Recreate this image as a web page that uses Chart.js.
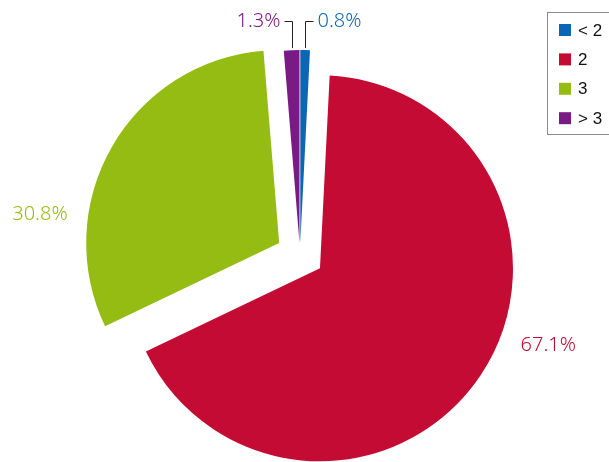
<!DOCTYPE html>
<html>
<head>
<meta charset="utf-8">
<script src="https://cdn.jsdelivr.net/npm/chart.js@4.4.1/dist/chart.umd.min.js"></script>
<style>
  html, body { margin: 0; padding: 0; background: #fff; }
  #wrap { width: 609px; height: 462px; position: relative; }
</style>
</head>
<body>
<div id="wrap"><canvas id="pieChart"></canvas></div>
<script>
// data
const categories = ["< 2", "2", "3", "> 3"];
const shares = [0.8, 67.1, 30.8, 1.3];

// styles
const sliceColors = ["#0b66b4", "#c30b33", "#94bc12", "#7a1a84"];
const explode = [12, 24, 24, 12];
const labelTurn = [0, -15, -23, 0]; // degrees, big outside labels only

// Pull slices out from the centre along their bisector
const explodePlugin = {
  id: "explode",
  afterDatasetUpdate(chart, args) {
    const meta = chart.getDatasetMeta(args.index);
    meta.data.forEach((arc, i) => {
      const mid = (arc.startAngle + arc.endAngle) / 2;
      arc.x += Math.cos(mid) * explode[i];
      arc.y += Math.sin(mid) * explode[i];
    });
  },
};

// Percent labels, with leader lines for the thin slices
const labelPlugin = {
  id: "pctLabels",
  afterDatasetsDraw(chart) {
    const ctx = chart.ctx;
    const meta = chart.getDatasetMeta(0);
    ctx.save();
    ctx.font = "300 20px 'Noto Sans'";
    ctx.textBaseline = "middle";
    meta.data.forEach((arc, i) => {
      const mid = (arc.startAngle + arc.endAngle) / 2;
      const text = shares[i].toFixed(1) + "%";
      ctx.fillStyle = sliceColors[i];
      if (shares[i] < 5) {
        const x0 = Math.round(arc.x + Math.cos(mid) * arc.outerRadius) + 0.5;
        const y0 = arc.y + Math.sin(mid) * arc.outerRadius - 2;
        const y1 = Math.round(y0 - 27) + 0.5;
        const side = Math.cos(mid) >= 0 ? 1 : -1;
        ctx.strokeStyle = "#222";
        ctx.lineWidth = 1;
        ctx.beginPath();
        ctx.moveTo(x0, y0);
        ctx.lineTo(x0, y1);
        ctx.lineTo(x0 + side * 8, y1);
        ctx.stroke();
        ctx.textAlign = side > 0 ? "left" : "right";
        ctx.fillText(text, x0 + side * 12, y1);
      } else {
        const a = mid + (labelTurn[i] * Math.PI) / 180;
        const d = arc.outerRadius + 48;
        ctx.textAlign = "center";
        ctx.fillText(text, arc.x + Math.cos(a) * d, arc.y + Math.sin(a) * d);
      }
    });
    ctx.restore();
  },
};

// Boxed legend in the top right corner
const boxLegend = {
  id: "boxLegend",
  afterDraw(chart) {
    const ctx = chart.ctx;
    const bx = chart.width - 62;
    const by = 12;
    ctx.save();
    ctx.strokeStyle = "#8c8c8c";
    ctx.lineWidth = 1;
    ctx.strokeRect(bx + 0.5, by + 0.5, 80, 122);
    ctx.font = "17px 'Liberation Sans'";
    ctx.textBaseline = "middle";
    ctx.textAlign = "left";
    chart.data.labels.forEach((lab, i) => {
      const cy = by + 18 + i * 29.4;
      ctx.fillStyle = sliceColors[i];
      ctx.fillRect(bx + 12, cy - 6, 12, 12);
      ctx.fillStyle = "#111";
      ctx.fillText(lab, bx + 31, cy + 1);
    });
    ctx.restore();
  },
};

new Chart(document.getElementById("pieChart"), {
  type: "pie",
  data: {
    labels: categories,
    datasets: [
      {
        data: shares,
        backgroundColor: sliceColors,
        borderWidth: 0,
        radius: 193,
      },
    ],
  },
  options: {
    responsive: true,
    maintainAspectRatio: false,
    animation: false,
    layout: {
      padding: { left: 0, right: 9, top: 48, bottom: 0 },
    },
    plugins: {
      legend: { display: false },
      tooltip: { enabled: false },
    },
  },
  plugins: [explodePlugin, labelPlugin, boxLegend],
});
</script>
</body>
</html>
